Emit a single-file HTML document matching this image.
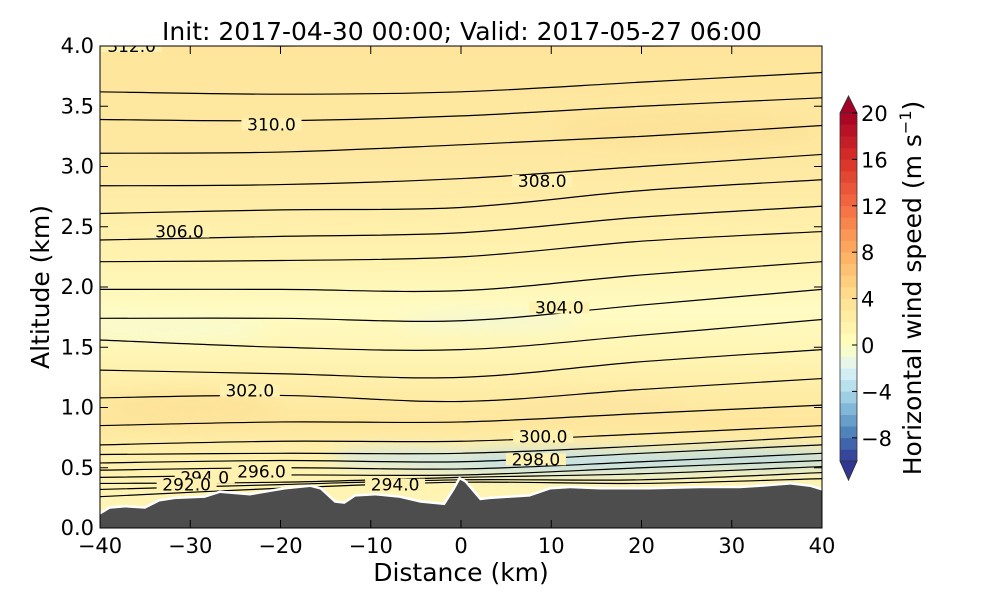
<!DOCTYPE html>
<html><head><meta charset="utf-8"><style>
html,body{margin:0;padding:0;background:#fff}
svg text{font-family:"DejaVu Sans","Liberation Sans",sans-serif}
</style></head><body>
<svg id="chart" width="1000" height="600" viewBox="0 0 1000 600" xmlns="http://www.w3.org/2000/svg">
<defs>
<filter id="blur" x="-20%" y="-50%" width="140%" height="200%"><feGaussianBlur stdDeviation="8"/></filter>
<clipPath id="plotclip"><rect x="100" y="46" width="722" height="482"/></clipPath>
<linearGradient id="bg" x1="0" y1="0" x2="0" y2="1">
<stop offset="0" stop-color="#fee59b"/>
<stop offset="0.25" stop-color="#fee9a2"/>
<stop offset="0.45" stop-color="#fff3b0"/>
<stop offset="0.55" stop-color="#fffbc2"/>
<stop offset="0.65" stop-color="#fff4b2"/>
<stop offset="0.78" stop-color="#fee69c"/>
<stop offset="0.86" stop-color="#fff2ae"/>
<stop offset="1" stop-color="#fff6b8"/>
</linearGradient>
</defs>
<text x="462" y="40" font-size="25" text-anchor="middle">Init: 2017-04-30 00:00; Valid: 2017-05-27 06:00</text>
<g id="plot" clip-path="url(#plotclip)">
<rect x="100" y="46" width="722" height="482" fill="url(#bg)"/>
<g id="blobs" filter="url(#blur)"></g>
<g id="contours"></g>
<g id="terrain-g"></g>
<g id="labels"></g>
</g>
<rect x="100" y="46" width="722" height="482" fill="none" stroke="#000" stroke-width="1"/>
<g id="axes"></g>
<g id="cbar"></g>
<text x="461" y="581" font-size="25" text-anchor="middle">Distance (km)</text>
<text transform="translate(49,287) rotate(-90)" font-size="25" text-anchor="middle">Altitude (km)</text>
<text transform="translate(921,288) rotate(-90)" font-size="25" text-anchor="middle">Horizontal wind speed (m s<tspan font-size="16" dy="-10">−1</tspan><tspan dy="10">)</tspan></text>
</svg>
<script>
const NS='http://www.w3.org/2000/svg';
const xTicks=[-40,-30,-20,-10,0,10,20,30,40];
const yTicks=[0.0,0.5,1.0,1.5,2.0,2.5,3.0,3.5,4.0];
const cbTicks=[-8,-4,0,4,8,12,16,20];
const terrainX=[-40,-38.9,-37.2,-35,-33.4,-31.7,-28.4,-26.7,-23.4,-19.5,-16.7,-15.6,-14,-12.9,-11.7,-9.5,-6.8,-4.5,-1.8,-0.7,-0.1,0.4,2.1,3.2,5.4,7.6,9.9,12.1,15.4,20.9,26.5,30.9,33.1,36.5,38.7,40];
const terrainH=[0.11,0.16,0.17,0.16,0.22,0.24,0.25,0.29,0.27,0.32,0.34,0.32,0.21,0.2,0.26,0.27,0.25,0.21,0.19,0.32,0.40,0.38,0.23,0.24,0.25,0.26,0.32,0.33,0.32,0.32,0.33,0.33,0.34,0.36,0.34,0.31];
const contourX=[-40,-20,0,20,40];
const contourH=[
[4.01,4.0,4.01,4.0,4.01],
[3.62,3.60,3.62,3.70,3.78],[3.39,3.38,3.42,3.50,3.57],[3.11,3.12,3.18,3.25,3.34],
[2.84,2.85,2.90,3.00,3.10],[2.61,2.64,2.66,2.80,2.89],[2.39,2.42,2.45,2.58,2.67],
[2.21,2.22,2.25,2.38,2.46],[1.98,1.98,1.97,2.10,2.21],[1.74,1.74,1.72,1.85,1.98],
[1.56,1.50,1.48,1.60,1.73],[1.31,1.28,1.25,1.38,1.48],[1.08,1.10,1.05,1.15,1.24],
[0.85,0.88,0.88,0.95,1.02],[0.69,0.72,0.72,0.78,0.85],[0.61,0.62,0.62,0.68,0.76],
[0.54,0.56,0.55,0.62,0.69],[0.48,0.50,0.49,0.55,0.62],[0.42,0.44,0.44,0.50,0.56],
[0.37,0.38,0.42,0.45,0.51],[0.32,0.36,0.40,0.40,0.46],[0.26,0.33,0.38,0.37,0.41]];
const labelText=['312.0','310.0','308.0','306.0','304.0','302.0','300.0','298.0','296.0','294.0','294.0','292.0'];
const labelX=[-36.5,-21.0,9.0,-31.2,10.9,-23.4,9.1,8.3,-22.1,-28.4,-7.3,-30.4];
const labelY=[4.0,3.35,2.88,2.46,1.83,1.14,0.76,0.57,0.47,0.42,0.36,0.36];
const sx=d=>100+(d+40)/80*722, sy=h=>528-h/4*482;
function mk(t,a,p){const e=document.createElementNS(NS,t);for(const k in a)e.setAttribute(k,a[k]);(p||document.getElementById('chart')).appendChild(e);return e;}
const bl=document.getElementById('blobs');
[[-33,1.65,70,10,'#f8fbd0'],[3,1.72,60,8,'#f3f7d2'],[12,0.55,120,11,'#bfdfea'],[32,0.57,70,9,'#b5d9e8'],[-6,0.58,50,8,'#cfe7ea'],[25,3.3,90,20,'#fde39a'],[-30,1.0,60,15,'#fde39a'],[15,1.0,60,12,'#fde5a0']].forEach(b=>{
 const e=mk('ellipse',{cx:sx(b[0]),cy:sy(b[1]),rx:b[2]*722/80/6,ry:b[3]*1.0,fill:b[4]},bl);
 
 
});
const cg=document.getElementById('contours');
contourH.forEach((row)=>{
 const pts=contourX.map((x,i)=>[sx(x),sy(row[i])]);
 let d='M'+pts[0][0]+','+pts[0][1];
 for(let i=0;i<pts.length-1;i++){const p0=pts[Math.max(i-1,0)],p1=pts[i],p2=pts[i+1],p3=pts[Math.min(i+2,pts.length-1)];
  d+=' C'+(p1[0]+(p2[0]-p0[0])/6)+','+(p1[1]+(p2[1]-p0[1])/6)+' '+(p2[0]-(p3[0]-p1[0])/6)+','+(p2[1]-(p3[1]-p1[1])/6)+' '+p2[0]+','+p2[1];}
 const e=mk('path',{d:d,fill:'none',stroke:'#000','stroke-width':1.2},cg);
 
 
});
let td='M'+sx(-40)+','+sy(-0.1);
terrainX.forEach((x,i)=>td+=' L'+sx(x)+','+sy(terrainH[i]));
td+=' L'+sx(40)+','+sy(-0.1)+' Z';
const tw=mk('path',{d:td,fill:'none',stroke:'#fff','stroke-width':5},document.getElementById('terrain-g'));


const te=mk('path',{d:td,fill:'#4d4d4d',stroke:'none'},document.getElementById('terrain-g'));


const lg=document.getElementById('labels');
labelText.forEach((t,i)=>{
 const x=sx(labelX[i]),y=sy(labelY[i]);
 const r=mk('rect',{x:x-30,y:y-6,width:60,height:12,fill:'#fff2b0'},lg);
 
 
 const e=mk('text',{x:x,y:y+6,'font-size':17,'text-anchor':'middle'},lg);
 e.textContent=t;
 
 
});
const ax=document.getElementById('axes');
xTicks.forEach(v=>{const x=sx(v);
 mk('line',{x1:x,y1:528,x2:x,y2:520,stroke:'#000'},ax);mk('line',{x1:x,y1:46,x2:x,y2:54,stroke:'#000'},ax);
 const e=mk('text',{x:x,y:553,'font-size':21,'text-anchor':'middle'},ax);e.textContent=(v<0?'−':'')+Math.abs(v);
 
 
});
yTicks.forEach(v=>{const y=sy(v);
 mk('line',{x1:100,y1:y,x2:108,y2:y,stroke:'#000'},ax);mk('line',{x1:822,y1:y,x2:814,y2:y,stroke:'#000'},ax);
 const e=mk('text',{x:94,y:y+7,'font-size':21,'text-anchor':'end'},ax);e.textContent=v.toFixed(1);
 
 
});
const cb=document.getElementById('cbar');
const stops=[[49,54,149],[69,117,180],[116,173,209],[171,217,233],[224,243,248],[255,255,191],[254,224,144],[253,174,97],[244,109,67],[215,48,39],[165,0,38]];
function cmap(t){const p=t*(stops.length-1),i=Math.min(Math.floor(p),stops.length-2),f=p-i;return 'rgb('+stops[i].map((c,k)=>Math.round(c+(stops[i+1][k]-c)*f)).join(',')+')';}
const tv=v=>v<0?0.5+v/20:0.5+v/40;
const cy=v=>113+(20-v)*11.6;
for(let v=-10;v<20;v++){
 const e=mk('rect',{x:840,y:cy(v+1),width:17,height:11.9,fill:cmap(tv(v+0.5))},cb);
 
 
}
mk('polygon',{points:'840,113 848.5,96 857,113',fill:cmap(1),stroke:'#333','stroke-width':0.8},cb);
mk('polygon',{points:'840,461 848.5,480 857,461',fill:cmap(0),stroke:'#333','stroke-width':0.8},cb);
mk('path',{d:'M840,113 L848.5,96 L857,113 L857,461 L848.5,480 L840,461 Z',fill:'none',stroke:'#333','stroke-width':0.8},cb);
cbTicks.forEach(v=>{const y=cy(v);
 mk('line',{x1:852,y1:y,x2:857,y2:y,stroke:'#000'},cb);
 const e=mk('text',{x:861,y:y+8,'font-size':21},cb);e.textContent=(v<0?'−':'')+Math.abs(v);
 
 
});
</script>
</body></html>
